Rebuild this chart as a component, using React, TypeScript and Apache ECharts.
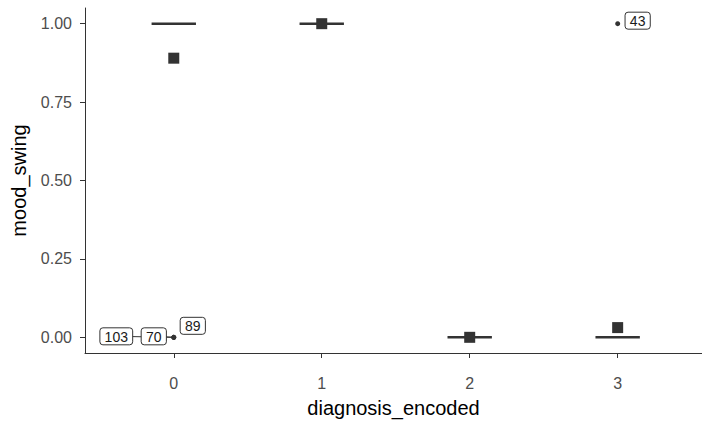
import React, { useEffect, useRef } from "react";
import * as echarts from "echarts";

// Categories (diagnosis_encoded)
const categories = [0, 1, 2, 3];
// Median of mood_swing per category
const medians = [1, 1, 0, 0];
// Mean of mood_swing per category
const means = [0.89, 1, 0, 0.031];
// Outliers
const outlierCategory = [0, 0, 0, 3];
const outlierValue = [0, 0, 0, 1];
const outlierId = ["103", "70", "89", "43"];
// Tick labels
const yTicks = [0, 0.25, 0.5, 0.75, 1];
const xTicks = [0, 1, 2, 3];

// Label layout (pixel offsets of repelled labels, relative to their point)
const labelOffsets = [
  [-57.5, -1],
  [-20, -1],
  [19, -11.5],
  [20, -3],
];
const labelSegment = [true, true, false, false];

const INK = "#333333";
const FONT = "Liberation Sans, Arial, sans-serif";

export default function App() {
  const ref = useRef<HTMLDivElement>(null);

  useEffect(() => {
    if (!ref.current) return;
    const chart = echarts.init(ref.current, null, { renderer: "svg" });

    const option: any = {
      animation: false,
      backgroundColor: "#ffffff",
      grid: { left: 85, right: 0, top: 8, bottom: 62, containLabel: false },
      xAxis: {
        type: "value",
        min: -0.6,
        max: 3.57,
        name: "diagnosis_encoded",
        nameLocation: "middle",
        nameGap: 45,
        nameTextStyle: { fontSize: 20, color: "#000", fontFamily: FONT },
        axisLine: { show: true, onZero: false, lineStyle: { color: INK, width: 1 } },
        axisTick: { show: true, length: 5, customValues: xTicks, lineStyle: { color: INK } },
        axisLabel: {
          customValues: xTicks,
          margin: 22,
          fontSize: 16,
          color: "#4d4d4d",
          fontFamily: FONT,
          formatter: (v: number) => String(v),
        },
        splitLine: { show: false },
      },
      yAxis: {
        type: "value",
        min: -0.05,
        max: 1.05,
        name: "mood_swing",
        nameLocation: "middle",
        nameGap: 56,
        nameRotate: 90,
        nameTextStyle: { fontSize: 20, color: "#000", fontFamily: FONT },
        axisLine: { show: true, onZero: false, lineStyle: { color: INK, width: 1 } },
        axisTick: { show: true, length: 5, customValues: yTicks, lineStyle: { color: INK } },
        axisLabel: {
          customValues: yTicks,
          margin: 13,
          fontSize: 16,
          color: "#4d4d4d",
          fontFamily: FONT,
          formatter: (v: number) => v.toFixed(2),
        },
        splitLine: { show: false },
      },
      series: [
        {
          type: "custom",
          name: "median",
          z: 2,
          data: categories.map((c, i) => [c, medians[i]]),
          renderItem: (params: any, api: any) => {
            const x = api.value(0);
            const y = api.value(1);
            const a = api.coord([x - 0.15, y]);
            const b = api.coord([x + 0.15, y]);
            return {
              type: "line",
              shape: { x1: a[0], y1: a[1], x2: b[0], y2: b[1] },
              style: { stroke: INK, lineWidth: 2.6 },
            };
          },
        },
        {
          type: "scatter",
          name: "mean",
          z: 3,
          symbol: "rect",
          symbolSize: 11,
          itemStyle: { color: INK, opacity: 1 },
          data: categories.map((c, i) => [c, means[i]]),
        },
        {
          type: "custom",
          name: "labels",
          z: 4,
          data: outlierCategory.map((c, i) => [c, outlierValue[i]]),
          renderItem: (params: any, api: any) => {
            const i = params.dataIndex;
            const p = api.coord([api.value(0), api.value(1)]);
            const text = outlierId[i];
            const w = text.length * 7.6 + 10;
            const h = 17;
            const cx = p[0] + labelOffsets[i][0];
            const cy = p[1] + labelOffsets[i][1];
            const children: any[] = [];
            if (labelSegment[i]) {
              children.push({
                type: "line",
                shape: { x1: cx, y1: cy, x2: p[0], y2: p[1] },
                style: { stroke: INK, lineWidth: 1 },
              });
            }
            children.push({
              type: "rect",
              shape: { x: cx - w / 2, y: cy - h / 2, width: w, height: h, r: 3 },
              style: { fill: "#ffffff", stroke: INK, lineWidth: 1 },
            });
            children.push({
              type: "text",
              style: {
                text,
                x: cx,
                y: cy + 0.5,
                align: "center",
                verticalAlign: "middle",
                fontSize: 14,
                fontFamily: FONT,
                fill: "#1a1a1a",
              },
            });
            return { type: "group", children };
          },
        },
        {
          type: "scatter",
          name: "outliers",
          z: 5,
          symbol: "circle",
          symbolSize: 5,
          itemStyle: { color: INK, opacity: 1 },
          data: outlierCategory.map((c, i) => [c, outlierValue[i]]),
        },
      ],
    };

    chart.setOption(option);
    return () => chart.dispose();
  }, []);

  return (
    <div
      ref={ref}
      style={{ position: "absolute", left: 0, top: 0, width: 702, height: 423, background: "#fff" }}
    />
  );
}
